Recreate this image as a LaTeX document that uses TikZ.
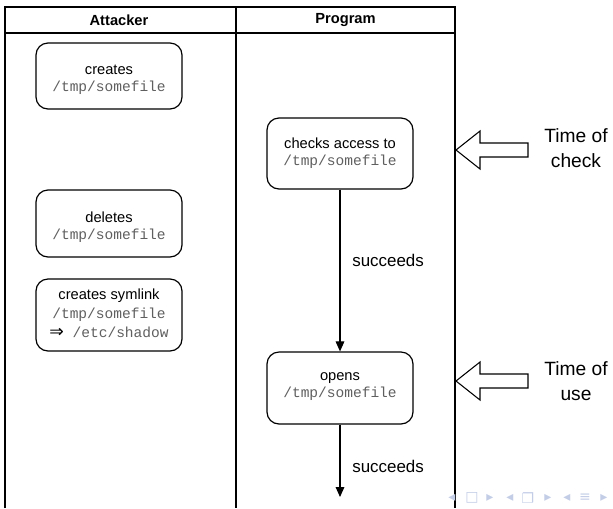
\documentclass[tikz,border=0pt]{standalone}
\usepackage{fontspec}
\setmainfont{Liberation Sans}
\setmonofont{Liberation Mono}
\newfontfamily\dejavu{DejaVu Sans}
\usetikzlibrary{arrows.meta}
\definecolor{pathgray}{RGB}{95,95,95}
\definecolor{navcol}{RGB}{195,205,230}
\tikzset{
  lane/.style={draw=black, line width=0.9pt},
  stepbox/.style={draw=black, line width=0.9pt, rounded corners=9pt, minimum width=146*0.75pt, inner sep=0pt},
  steptext/.style={align=center, inner sep=0pt, font=\fontsize{11pt}{12.75pt}\selectfont},
  flow/.style={draw=black, line width=0.8pt, -{Triangle[length=7.5pt,width=6.5pt]}},
  lbl/.style={font=\fontsize{12.7pt}{14pt}\selectfont, anchor=west},
  hdr/.style={font=\bfseries\fontsize{11pt}{12pt}\selectfont},
  bigarrow/.style={draw=black, line width=0.8pt, fill=white},
  side/.style={font=\fontsize{14.4pt}{18.5pt}\selectfont, align=center},
  navsym/.style={font=\dejavu\fontsize{10.5pt}{10.5pt}\selectfont, text=navcol, inner sep=0pt},
}
\newcommand{\fpath}[1]{{\ttfamily\fontsize{10.9pt}{12.75pt}\selectfont\color{pathgray}#1}}
\begin{document}
\begin{tikzpicture}[x=0.75pt,y=-0.75pt]
\useasboundingbox (0,0) rectangle (613,508);
% swimlanes
\draw[lane] (5,508) -- (5,7) -- (455,7) -- (455,508);
\draw[lane] (5,33) -- (455,33);
\draw[lane] (236,7) -- (236,508);
\node[hdr] (hA) at (119,20) {Attacker};
\node[hdr] (hP) at (345.5,20) {Program};
% attacker boxes
\node[stepbox, minimum height=66*0.75pt] (c1) at (109,76) {};
\node[steptext] (t1) at (109,79.5) {creates\\\fpath{/tmp/somefile}};
\node[stepbox, minimum height=67*0.75pt] (c2) at (109,223.5) {};
\node[steptext] (t2) at (109,227) {deletes\\\fpath{/tmp/somefile}};
\node[stepbox, minimum height=72*0.75pt] (c3) at (109,315) {};
\node[steptext, font=\fontsize{11pt}{14.25pt}\selectfont] (t3) at (109,313) {creates symlink\\\fpath{/tmp/somefile}\\{\dejavu\fontsize{13pt}{13pt}\selectfont ⇒}\fpath{\ /etc/shadow}};
% program boxes
\node[stepbox, minimum height=71*0.75pt] (p1) at (340,153.5) {};
\node[steptext] (t4) at (340,153.5) {checks access to\\\fpath{/tmp/somefile}};
\node[stepbox, minimum height=72*0.75pt] (p2) at (340,388) {};
\node[steptext] (t5) at (340,387) {opens\\\fpath{/tmp/somefile}};
\coordinate (endp) at (340,497);
\draw[flow] (p1) -- node[lbl, pos=0.44, xshift=5.5pt] {succeeds} (p2);
\draw[flow] (p2) -- node[lbl, pos=0.58, xshift=5.5pt] {succeeds} (endp);
% big arrows
\draw[bigarrow] (456,150) -- (480,131) -- (480,143) -- (528,143) -- (528,157) -- (480,157) -- (480,169) -- cycle;
\node[side] (tc) at (576,148) {Time of\\check};
\draw[bigarrow] (456,381) -- (480,362) -- (480,374) -- (528,374) -- (528,388) -- (480,388) -- (480,400) -- cycle;
\node[side] (tu) at (576,381) {Time of\\use};
% navigation symbols
\node[navsym] (n1) at (452,498) {◂};
\node[navsym] (n2) at (472,498) {□};
\node[navsym] (n3) at (490,498) {▸};
\node[navsym] (n4) at (510,498) {◂};
\node[navsym] (n5) at (528,498) {❐};
\node[navsym] (n6) at (548,498) {▸};
\node[navsym] (n7) at (567,498) {◂};
\node[navsym] (n8) at (585,498) {≡};
\node[navsym] (n9) at (604,498) {▸};
\end{tikzpicture}
\end{document}
